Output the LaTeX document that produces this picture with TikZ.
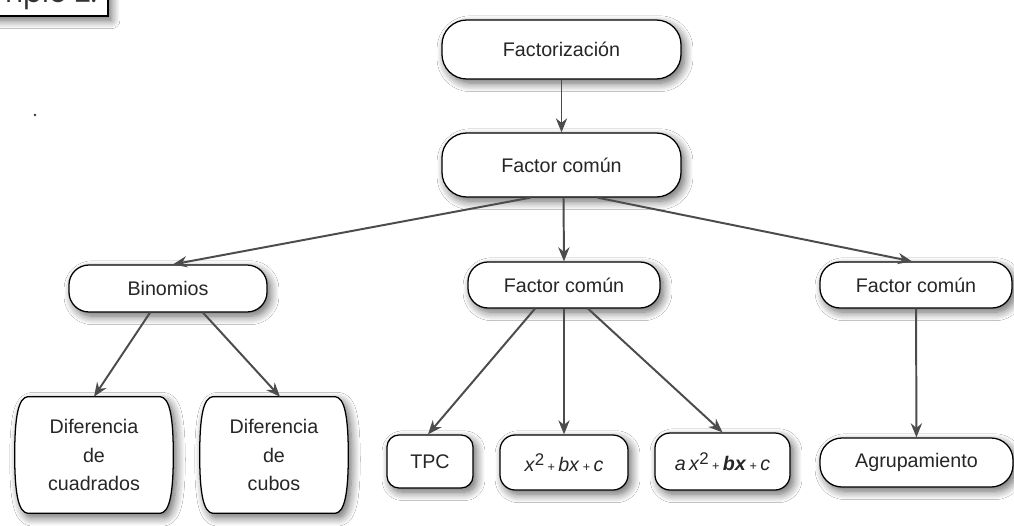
\documentclass[tikz,border=0pt]{standalone}
\usepackage{fontspec}
\setmainfont{Liberation Sans}
\newfontfamily\ejfont{Poppins}
\usetikzlibrary{arrows.meta,shadows.blur,calc,backgrounds}
\tikzset{
  shad/.style={blur shadow={shadow xshift=2.5pt, shadow yshift=-3pt, shadow blur radius=6pt, shadow opacity=60, shadow blur steps=10}},
  box/.style={draw=black, line width=0.9pt, fill=white, text=black!85, align=center,
    inner sep=0pt, font=\fontsize{14}{20.5}\selectfont, shad},
  plain/.style={text=black!85, align=center, inner sep=0pt, font=\fontsize{14}{20.5}\selectfont},
  bulgeline/.style={draw=black, line width=0.9pt, fill=white, shad},
  arr/.style={draw=black!70, line width=1.4pt, -{Stealth[length=10pt,width=8pt]}}
}
\newcommand\sqtwo{\raisebox{4.5pt}{\fontsize{12}{12}\selectfont 2}}
\begin{document}
\begin{tikzpicture}[x=0.025cm,y=-0.025cm]
\useasboundingbox (0,0) rectangle (1014,526);

% cut-off label box at top left
\draw[line width=0.8pt, fill=white, shad] (-30,-40) rectangle (108,16);
\node[anchor=base east, text=black!80, inner sep=0pt, font=\ejfont\fontsize{20}{20}\selectfont] (ej) at (97,3) {Ejemplo 2.};
\fill[black!80] (35,115) circle (1.3);

% main nodes
\node[box, minimum width=5.975cm, minimum height=1.475cm, rounded corners=0.62cm] (top) at (561.5,49.5) {Factorización};
\node[box, minimum width=5.975cm, minimum height=1.6cm, rounded corners=0.62cm] (fc1) at (561.5,165) {Factor común};
\node[box, minimum width=4.95cm, minimum height=1.175cm, rounded corners=0.5cm] (bin) at (168,288.5) {Binomios};
\node[box, minimum width=4.8cm, minimum height=1.15cm, rounded corners=0.5cm] (fc2) at (564,285) {Factor común};
\node[box, minimum width=4.8cm, minimum height=1.15cm, rounded corners=0.5cm] (fc3) at (916,285) {Factor común};
\node[box, minimum width=2.15cm, minimum height=1.325cm, rounded corners=0.3cm] (tpc) at (430,461.5) {TPC};
\node[box, minimum width=3.2cm, minimum height=1.375cm, rounded corners=0.38cm] (x2) at (564,462.5)
  {\textit{x}\sqtwo\,{\small +}\,\textit{bx}\,{\small +}\,\textit{c}};
\node[box, minimum width=3.375cm, minimum height=1.425cm, rounded corners=0.38cm] (ax2) at (722.5,461.5)
  {\textit{a\,x}\sqtwo\,{\small +}\,\textbf{\textit{bx}}\,{\small +}\,\textit{c}};
\node[box, minimum width=4.825cm, minimum height=1.225cm, rounded corners=0.55cm] (agr) at (916.5,462.5) {Agrupamiento};

% bulging boxes
\node[plain, minimum width=3.95cm, minimum height=2.9cm] (dc) at (94,455) {Diferencia\\de\\cuadrados};
\node[plain, minimum width=3.7cm, minimum height=2.9cm] (dcu) at (274,455) {Diferencia\\de\\cubos};
\begin{scope}[on background layer]
\fill[white] (0,0) rectangle (1014,526);
\foreach \n in {dc,dcu}{
  \path[bulgeline] ($(\n.north west)+(13,0)$) -- ($(\n.north east)+(-13,0)$)
    .. controls ($(\n.north east)+(-4,1)$) and ($(\n.east)+(0,-40)$) .. (\n.east)
    .. controls ($(\n.east)+(0,40)$) and ($(\n.south east)+(-4,-1)$) .. ($(\n.south east)+(-13,0)$)
    -- ($(\n.south west)+(13,0)$)
    .. controls ($(\n.south west)+(4,-1)$) and ($(\n.west)+(0,40)$) .. (\n.west)
    .. controls ($(\n.west)+(0,-40)$) and ($(\n.north west)+(4,1)$) .. cycle;
}
\end{scope}

% connectors
\draw[arr] (top) -- (fc1);
\draw[arr] ($(fc1.south)+(-31,0)$) -- ($(bin.north)+(5,0)$);
\draw[arr] ($(fc1.south)+(2,0)$) -- (fc2.north);
\draw[arr] ($(fc1.south)+(36,0)$) -- ($(fc3.north)+(-4,0)$);
\draw[arr] ($(bin.south)+(-18,0)$) -- (dc.north);
\draw[arr] ($(bin.south)+(35,0)$) -- ($(dcu.north)+(6,0)$);
\draw[arr] ($(fc2.south)+(-29,0)$) -- ($(tpc.north)+(-2,0)$);
\draw[arr] (fc2.south) -- (x2.north);
\draw[arr] ($(fc2.south)+(24,0)$) -- (ax2.north);
\draw[arr] (fc3) -- (agr);
\end{tikzpicture}
\end{document}
